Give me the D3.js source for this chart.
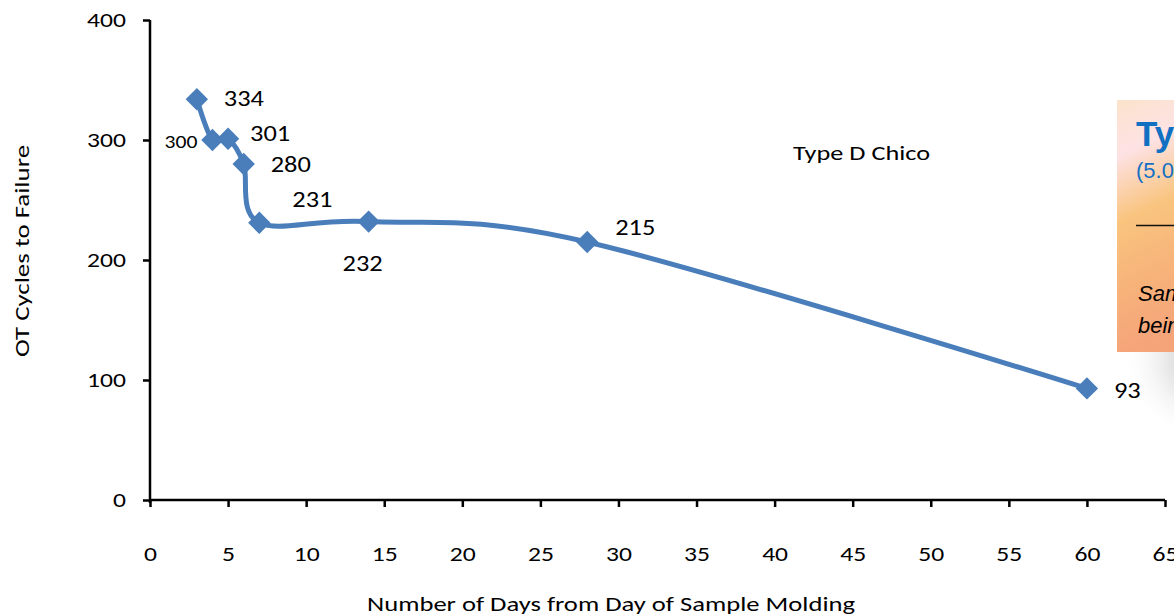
<!DOCTYPE html>
<html>
<head>
<meta charset="utf-8">
<script src="https://cdn.jsdelivr.net/npm/d3@7"></script>
<style>
  html, body { margin: 0; padding: 0; background: #ffffff; }
  svg { display: block; }
  text { font-family: Carlito, Calibri, "Open Sans", "Noto Sans", sans-serif; fill: #000; }
</style>
</head>
<body>
<svg id="chart" width="1174" height="616"></svg>
<script>
// Days since molding and measured OT cycles to failure
const days   = [3, 4, 5, 6, 7, 14, 28, 60];
const cycles = [334, 300, 301, 280, 231, 232, 215, 93];
const xTicks = [0, 5, 10, 15, 20, 25, 30, 35, 40, 45, 50, 55, 60, 65];
const yTicks = [0, 100, 200, 300, 400];

// Where each value label sits relative to its marker
const labelOffsets = [
  { dx: 27, dy: 2,  size: 22, anchor: "start" },
  { dx: -15, dy: 4, size: 18, anchor: "end" },
  { dx: 22, dy: -3, size: 22, anchor: "start" },
  { dx: 27, dy: 3,  size: 22, anchor: "start" },
  { dx: 33, dy: -21, size: 22, anchor: "start" },
  { dx: -6, dy: 44, size: 22, anchor: "middle" },
  { dx: 28, dy: -12, size: 22, anchor: "start" },
  { dx: 27, dy: 4,  size: 22, anchor: "start" }
];

const svg = d3.select("#chart");
const blue = "#4a7ebb";

const x = d3.scaleLinear().domain([0, 65]).range([150, 1165]);
const y = d3.scaleLinear().domain([0, 400]).range([500, 20]);

// Widen a text's glyphs horizontally by factor k
function widen(sel, k) {
  sel.each(function () {
    const w = this.getComputedTextLength();
    d3.select(this).attr("textLength", w * k).attr("lengthAdjust", "spacingAndGlyphs");
  });
}

// Soft shadow behind the side panel
const defs = svg.append("defs");
const shadow = defs.append("radialGradient").attr("id", "panelShadow")
  .attr("cx", "0.5").attr("cy", "0.5").attr("r", "0.5");
shadow.append("stop").attr("offset", "0%").attr("stop-color", "#9a9a9a").attr("stop-opacity", 0.9);
shadow.append("stop").attr("offset", "100%").attr("stop-color", "#ffffff").attr("stop-opacity", 0);
svg.append("ellipse")
  .attr("cx", 1215).attr("cy", 360).attr("rx", 95).attr("ry", 85)
  .attr("fill", "url(#panelShadow)");

const grad = defs.append("linearGradient").attr("id", "panelFill")
  .attr("x1", "0").attr("y1", "0").attr("x2", "0.15").attr("y2", "1");
[["0%", "#fbe3cc"], ["22%", "#fde2e4"], ["48%", "#f9c47e"], ["75%", "#f7b27a"], ["100%", "#f5a47a"]]
  .forEach(([o, c]) => grad.append("stop").attr("offset", o).attr("stop-color", c));

const panel = svg.append("g");
const arial = "Arial, 'Liberation Sans', sans-serif";
panel.append("rect").attr("x", 1117).attr("y", 100).attr("width", 80).attr("height", 252)
  .attr("fill", "url(#panelFill)");
panel.append("text").attr("x", 1136).attr("y", 146).style("font-family", arial)
  .attr("font-size", 35).attr("font-weight", "bold").style("fill", "#1170c2").text("Type D");
panel.append("text").attr("x", 1136).attr("y", 178).style("font-family", arial)
  .attr("font-size", 22).style("fill", "#1570c4").text("(5.0%");
panel.append("line").attr("x1", 1136).attr("x2", 1180).attr("y1", 225.5).attr("y2", 225.5)
  .attr("stroke", "#111").attr("stroke-width", 1.6);
panel.append("text").attr("x", 1138).attr("y", 301).style("font-family", arial)
  .attr("font-size", 22).attr("font-style", "italic").text("Samples");
panel.append("text").attr("x", 1138).attr("y", 333).style("font-family", arial)
  .attr("font-size", 22).attr("font-style", "italic").text("being");

// Axes
const xAxis = d3.axisBottom(x).tickValues(xTicks).tickSize(7).tickFormat(d3.format("d"));
const gx = svg.append("g").attr("transform", "translate(0,500)").call(xAxis);
gx.select(".domain").attr("stroke", "#000").attr("stroke-width", 2.5)
  .attr("d", `M${x(0)},0H${x(65)}`);
gx.selectAll(".tick line").attr("stroke", "#000").attr("stroke-width", 2.5);
gx.selectAll(".tick text").attr("y", 46).attr("font-size", 21).style("fill", "#000");

const yAxis = d3.axisLeft(y).tickValues(yTicks).tickSize(7);
const gy = svg.append("g").attr("transform", `translate(${x(0)},0)`).call(yAxis);
gy.select(".domain").attr("stroke", "#000").attr("stroke-width", 2.5)
  .attr("d", `M0,${y(400)}V${y(0) + 3}`);
gy.selectAll(".tick line").attr("stroke", "#000").attr("stroke-width", 2.5);
gy.selectAll(".tick text").attr("x", -24).attr("font-size", 21).style("fill", "#000");
svg.selectAll(".tick text").style("font-family", "Carlito, Calibri, 'Open Sans', sans-serif");
widen(svg.selectAll(".tick text"), 1.22);

// Axis titles
svg.append("text").attr("x", 611).attr("y", 611).attr("text-anchor", "middle")
  .attr("font-size", 21).attr("textLength", 488).attr("lengthAdjust", "spacingAndGlyphs")
  .text("Number of Days from Day of Sample Molding");
svg.append("text").attr("transform", "translate(29,251) rotate(-90)")
  .attr("text-anchor", "middle").attr("font-size", 20).attr("textLength", 212)
  .attr("lengthAdjust", "spacingAndGlyphs").text("OT Cycles to Failure");

// Series name
svg.append("text").attr("x", 793).attr("y", 160).attr("font-size", 21)
  .attr("textLength", 137).attr("lengthAdjust", "spacingAndGlyphs").text("Type D Chico");

// Smoothed line and diamond markers
const pts = days.map((d, i) => ({ day: d, val: cycles[i] }));
const line = d3.line().x(d => x(d.day)).y(d => y(d.val)).curve(d3.curveCardinal.tension(0));
svg.append("path").datum(pts).attr("d", line)
  .attr("fill", "none").attr("stroke", blue).attr("stroke-width", 5)
  .attr("stroke-linejoin", "round").attr("stroke-linecap", "round");

svg.append("g").selectAll("path").data(pts).join("path")
  .attr("d", d3.symbol().type(d3.symbolSquare).size(250))
  .attr("transform", d => `translate(${x(d.day)},${y(d.val)}) rotate(45)`)
  .attr("fill", blue);

const labels = svg.append("g").selectAll("text").data(pts).join("text")
  .attr("x", (d, i) => x(d.day) + labelOffsets[i].dx)
  .attr("y", (d, i) => y(d.val) + labelOffsets[i].dy)
  .attr("dominant-baseline", "middle")
  .attr("text-anchor", (d, i) => labelOffsets[i].anchor)
  .attr("font-size", (d, i) => labelOffsets[i].size)
  .text(d => d.val);
widen(labels, 1.2);
</script>
</body>
</html>
